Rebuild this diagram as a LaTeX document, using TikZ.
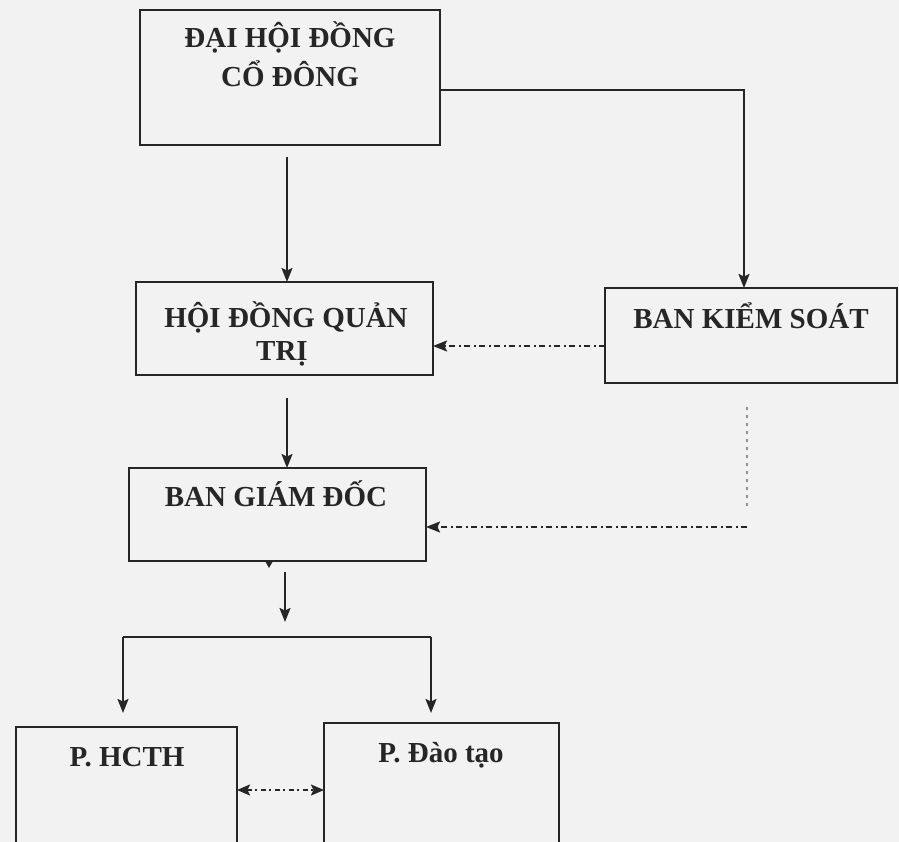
\documentclass[tikz,border=0pt]{standalone}
\usepackage{fontspec}
\setmainfont{Liberation Serif}
\usetikzlibrary{arrows.meta}
\definecolor{ink}{HTML}{262626}
\definecolor{paper}{HTML}{F2F2F2}
\tikzset{
  box/.style={draw=ink, line width=2pt, inner sep=0pt, outer sep=0pt, rectangle},
  lbl/.style={font=\bfseries\fontsize{29}{34}\selectfont, text=ink, inner sep=0pt, anchor=base},
  tip/.style={-{Stealth[length=14pt,width=11pt,inset=2.5pt]}},
  arr/.style={draw=ink, line width=1.9pt, tip},
  plain/.style={draw=ink, line width=2pt},
  dd/.style={draw=ink, line width=1.9pt, dash pattern=on 6pt off 3.5pt on 2pt off 3.5pt, tip},
  ddtwo/.style={draw=ink, line width=1.9pt, dash pattern=on 5pt off 3.5pt on 2pt off 3.5pt,
    {Stealth[length=13pt,width=11pt,inset=2.5pt]}-{Stealth[length=13pt,width=11pt,inset=2.5pt]}},
  dotv/.style={draw=ink!50, line width=1.6pt, dash pattern=on 3pt off 5pt},
}
\begin{document}
\begin{tikzpicture}[x=1pt,y=-1pt]
\fill[paper, use as bounding box] (0,0) rectangle (899,842);
\clip (0,0) rectangle (899,842);

% boxes
\node[box, minimum width=300pt, minimum height=135pt] (dh) at (290,77.5) {};
\node[box, minimum width=297pt, minimum height=93pt] (hd) at (284.5,328.5) {};
\node[box, minimum width=292pt, minimum height=95pt] (bks) at (751,335.5) {};
\node[box, minimum width=297pt, minimum height=93pt] (bgd) at (277.5,514.5) {};
\node[box, minimum width=221pt, minimum height=143pt] (hcth) at (126.5,798.5) {};
\node[box, minimum width=235pt, minimum height=147pt] (dt) at (441.5,796.5) {};

% labels
\node[lbl] (l1a) at (290,48) {ĐẠI HỘI ĐỒNG};
\node[lbl] (l1b) at (290,87) {CỔ ĐÔNG};
\node[lbl] (l2a) at (286,327) {HỘI ĐỒNG QUẢN};
\node[lbl] (l2b) at (282,360) {TRỊ};
\node[lbl] (l3) at (751,328) {BAN KIỂM SOÁT};
\node[lbl] (l4) at (276,506) {BAN GIÁM ĐỐC};
\node[lbl] (l5) at (127,766) {P. HCTH};
\node[lbl] (l6) at (441,762) {P. Đào tạo};

% coordinates
\coordinate (k2) at (747,527);
\coordinate (busL) at (123,637);
\coordinate (busR) at (431,637);

% connectors
\draw[arr, shorten <=12pt] ([xshift=-3pt]dh.south) -- ([xshift=-3pt]dh.south |- hd.north);
\draw[arr] ([yshift=-12.5pt]dh.east) -| ([xshift=-7pt]bks.north);
\draw[dd] ([yshift=-10.5pt]bks.west) -- ([yshift=-10.5pt]bks.west -| hd.east);
\draw[arr, shorten <=23pt] ([xshift=2.5pt]hd.south) -- ([xshift=2.5pt]hd.south |- bgd.north);
\draw[dotv, shorten <=24pt] ([xshift=-4pt]bks.south) -- ++(0,124);
\draw[dd] (k2) -- (k2 -| bgd.east);
\fill[ink] ([xshift=-8.5pt]bgd.south) ++(-4,0) -- ++(8,0) -- ++(-4,7) -- cycle;
\draw[arr, shorten <=11pt, shorten >=15pt] ([xshift=7.5pt]bgd.south) -- ([xshift=7.5pt]bgd.south |- busL);
\draw[plain] (busL) -- (busR);
\draw[arr, shorten >=14pt] (busL) -- (busL |- hcth.north);
\draw[arr, shorten >=10pt] (busR) -- (busR |- dt.north);
\draw[ddtwo] ([yshift=8.5pt]hcth.east) -- ([yshift=8.5pt]hcth.east -| dt.west);
\end{tikzpicture}
\end{document}
